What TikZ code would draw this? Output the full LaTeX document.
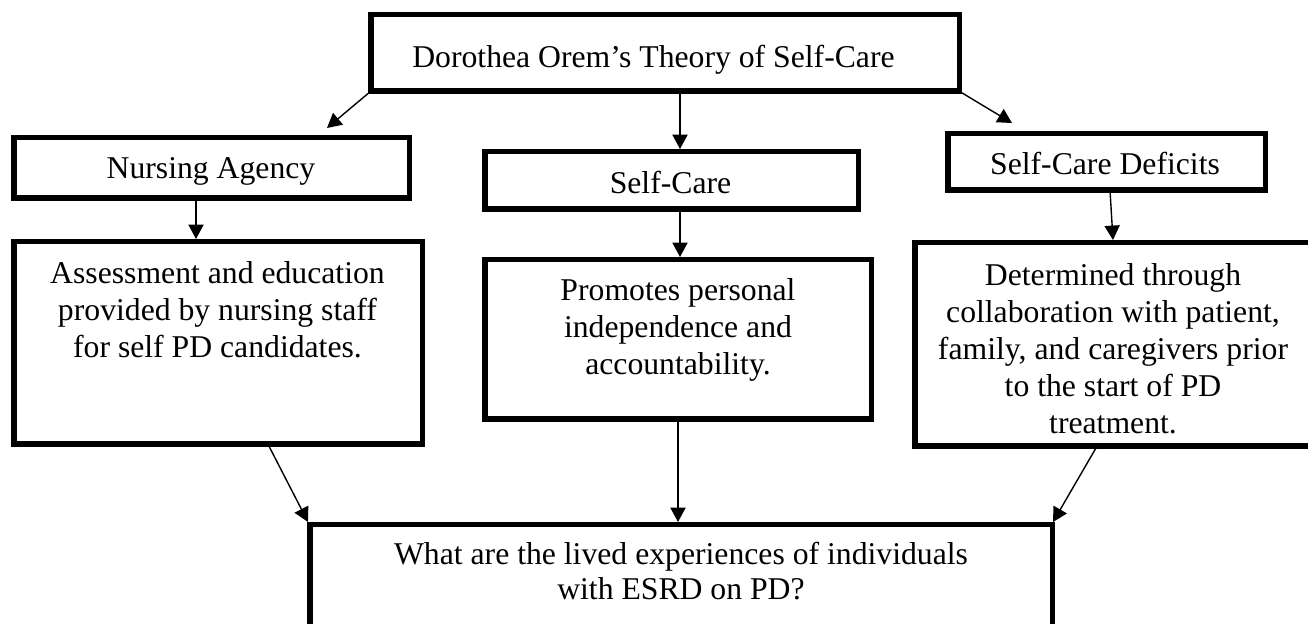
\documentclass[tikz,border=0pt]{standalone}
\usepackage{fontspec}
\setmainfont{Liberation Serif}
\usetikzlibrary{arrows.meta,calc}
\tikzset{
  box/.style={draw=black, line width=2.75pt, fill=white, inner sep=0pt, outer sep=0pt, rectangle},
  txt/.style={inner sep=0pt, align=center, font=\fontsize{15.85pt}{18.5pt}\selectfont},
  conn/.style={line width=0.7pt, draw=black, -{Triangle[length=7.2pt,width=7.6pt]}},
}
\begin{document}
\begin{tikzpicture}[x=0.5pt,y=-0.5pt]
\useasboundingbox (0,0) rectangle (1308,624);
% boxes
\node[box, minimum width=294.25pt, minimum height=38.25pt] (top) at (665,53) {};
\node[box, minimum width=197.75pt, minimum height=30.25pt] (na) at (211.5,168) {};
\node[box, minimum width=186.75pt, minimum height=28.75pt] (sc) at (671.5,180.5) {};
\node[box, minimum width=158.75pt, minimum height=28.25pt] (scd) at (1106.5,162) {};
\node[box, minimum width=204.25pt, minimum height=101.25pt] (l) at (218,343) {};
\node[box, minimum width=193.25pt, minimum height=79.75pt] (m) at (678,339.5) {};
\node[box, minimum width=198.25pt, minimum height=101.75pt] (r) at (1113,344.5) {};
\node[box, minimum width=371.25pt, minimum height=81.25pt] (b) at (681,606) {};
% texts
\node[txt, anchor=base] (ttop) at (653.5,68) {Dorothea Orem’s Theory of Self-Care};
\node[txt, anchor=base] (tna) at (211,179) {Nursing Agency};
\node[txt, anchor=base] (tsc) at (670.5,194) {Self-Care};
\node[txt, anchor=base] (tscd) at (1105,175) {Self-Care Deficits};
\node[txt, anchor=north] (tl) at (217.5,257.1) {\strut Assessment and education\\provided by nursing staff\\for self PD candidates.};
\node[txt, anchor=north] (tm) at (678,274.1) {\strut Promotes personal\\independence and\\accountability.};
\node[txt, anchor=north] (tr) at (1113,259.1) {\strut Determined through\\collaboration with patient,\\family, and caregivers prior\\to the start of PD\\treatment.};
\node[txt, anchor=north, font=\fontsize{15.85pt}{17.5pt}\selectfont] (tb) at (681,539.6) {\strut What are the lived experiences of individuals\\with ESRD on PD?};
% connectors
\draw[conn] (top.south west) -- ($(na.north)+(115.5,-9.75)$);
\draw[conn] ($(top.south)+(15,0)$) -- ($(sc.north)+(8.5,-2.75)$);
\draw[conn] (top.south east) -- ($(scd.north west)+(64.25,-10.75)$);
\draw[conn] ($(na.south)+(-15.5,0)$) -- ($(l.north)+(-22,-2.75)$);
\draw[conn] ($(sc.south)+(8.5,0)$) -- ($(m.north)+(2,-2.75)$);
\draw[conn] ($(scd.south)+(3.5,0)$) -- ($(r.north)+(0,-2.75)$);
\draw[conn] ($(l.south)+(50,0)$) -- ($(b.north west)+(-1.75,-2.75)$);
\draw[conn] (m.south) -- ($(b.north)+(-3,-2.75)$);
\draw[conn] ($(r.south)+(-16,0)$) -- ($(b.north east)+(0.75,-2.75)$);
\end{tikzpicture}
\end{document}
